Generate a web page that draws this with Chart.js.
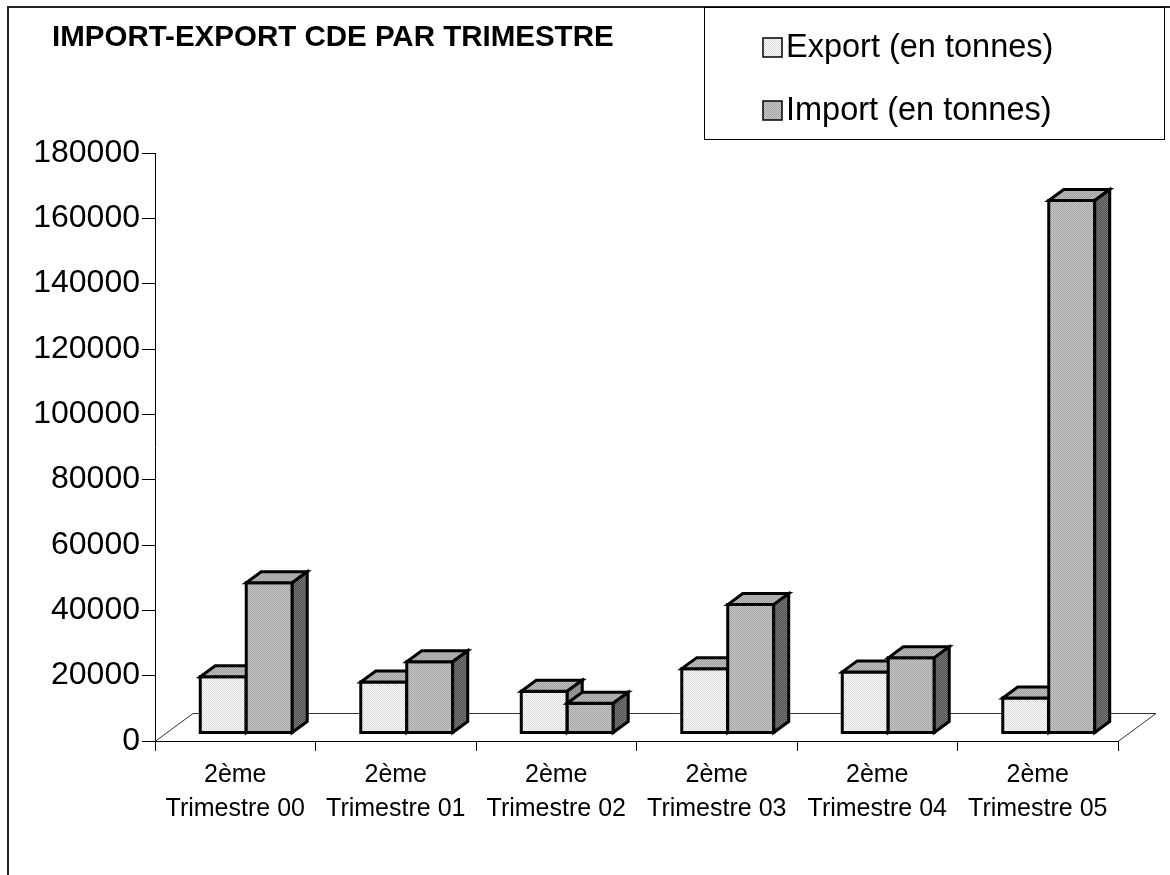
<!DOCTYPE html>
<html>
<head>
<meta charset="utf-8">
<script src="https://cdn.jsdelivr.net/npm/chart.js@4"></script>
<style>
html, body { margin: 0; padding: 0; background: #fff; }
#import_chart { display: block; }
</style>
</head>
<body>
<canvas id="import_chart" width="1170" height="875"></canvas>
<script>
var trimestres = [
    ['2ème', 'Trimestre 00'],
    ['2ème', 'Trimestre 01'],
    ['2ème', 'Trimestre 02'],
    ['2ème', 'Trimestre 03'],
    ['2ème', 'Trimestre 04'],
    ['2ème', 'Trimestre 05']
];
var exportTonnes = [17200, 15600, 12800, 19700, 18700, 10700];
var importTonnes = [46000, 21800, 9100, 39300, 23000, 163000];
var yMax = 180000;
var yStep = 20000;
var titre = 'IMPORT-EXPORT CDE PAR TRIMESTRE';
var legendes = ['Export (en tonnes)', 'Import (en tonnes)'];

var FONT = "'Liberation Sans', Arial, sans-serif";
var CANVAS = document.getElementById('import_chart');
var ctx = CANVAS.getContext('2d');

// petits motifs tramés façon Excel
function trame(c1, c2) {
    var p = document.createElement('canvas');
    p.width = 2; p.height = 2;
    var g = p.getContext('2d');
    g.fillStyle = c1; g.fillRect(0, 0, 2, 2);
    g.fillStyle = c2; g.fillRect(0, 0, 1, 1); g.fillRect(1, 1, 1, 1);
    return ctx.createPattern(p, 'repeat');
}

var faces = [
    { front: trame('#ffffff', '#d8d8d8'), top: trame('#a0a0a0', '#c0c0c0'), side: trame('#808080', '#a0a0a0') },
    { front: trame('#c8c8c8', '#a4a4a4'), top: trame('#a0a0a0', '#b8b8b8'), side: trame('#505050', '#7a7a7a') }
];

// décalages de la perspective
var FLOOR_DX = 38, FLOOR_DY = 28;
var BAR_SHIFT_X = 11, BAR_SHIFT_Y = 8;
var DEPTH_X = 15, DEPTH_Y = 11;

function poly(pts, fill, lw) {
    ctx.beginPath();
    ctx.moveTo(pts[0][0], pts[0][1]);
    for (var i = 1; i < pts.length; i++) ctx.lineTo(pts[i][0], pts[i][1]);
    ctx.closePath();
    if (fill) { ctx.fillStyle = fill; ctx.fill(); }
    ctx.lineWidth = lw;
    ctx.strokeStyle = '#000';
    ctx.stroke();
}

var decor = {
    id: 'decor',
    beforeDraw: function (chart) {
        var c = chart.ctx;
        c.save();
        // cadre du graphique
        c.strokeStyle = '#222';
        c.lineWidth = 2;
        c.beginPath();
        c.moveTo(8, 876); c.lineTo(8, 7); c.lineTo(1171, 7);
        c.stroke();
        // titre
        c.fillStyle = '#000';
        c.font = 'bold 29.5px ' + FONT;
        c.textBaseline = 'alphabetic';
        c.fillText(titre, 52, 46);
        // légende
        c.lineWidth = 1;
        c.strokeStyle = '#000';
        c.strokeRect(704.5, 7.5, 460, 132);
        c.font = '32.5px ' + FONT;
        c.textBaseline = 'middle';
        var ys = [47, 110];
        for (var i = 0; i < legendes.length; i++) {
            var x0 = 763;
            c.fillStyle = faces[i].front;
            c.fillRect(x0, ys[i] - 9, 19, 19);
            c.strokeStyle = '#000';
            c.lineWidth = 1.5;
            c.strokeRect(x0, ys[i] - 9, 19, 19);
            c.fillStyle = '#000';
            c.fillText(legendes[i], x0 + 23, ys[i] + 1);
        }
        c.restore();
    },
    beforeDatasetsDraw: function (chart) {
        var a = chart.chartArea, c = chart.ctx;
        c.save();
        c.strokeStyle = '#333';
        c.lineWidth = 1;
        c.beginPath();
        c.moveTo(a.left, a.bottom + 0.5);
        c.lineTo(a.left + FLOOR_DX, a.bottom - FLOOR_DY + 0.5);
        c.lineTo(a.right + FLOOR_DX, a.bottom - FLOOR_DY + 0.5);
        c.lineTo(a.right, a.bottom + 0.5);
        c.stroke();
        c.restore();
    },
    afterDatasetsDraw: function (chart) {
        ctx.save();
        ctx.lineJoin = 'miter';
        var n = chart.data.labels.length;
        for (var k = 0; k < n; k++) {
            for (var d = 0; d < chart.data.datasets.length; d++) {
                var bar = chart.getDatasetMeta(d).data[k];
                var l = bar.x - bar.width / 2 + BAR_SHIFT_X;
                var r = bar.x + bar.width / 2 + BAR_SHIFT_X;
                var t = bar.y - BAR_SHIFT_Y;
                var b = bar.base - BAR_SHIFT_Y;
                var f = faces[d];
                poly([[l, t], [r, t], [r, b], [l, b]], f.front, 3);
                poly([[l, t], [l + DEPTH_X, t - DEPTH_Y], [r + DEPTH_X, t - DEPTH_Y], [r, t]], f.top, 3);
                poly([[r, t], [r + DEPTH_X, t - DEPTH_Y], [r + DEPTH_X, b - DEPTH_Y], [r, b]], f.side, 3);
            }
        }
        ctx.restore();
    }
};

Chart.defaults.font.family = FONT;
Chart.defaults.color = '#000';

var import_chart = new Chart(ctx, {
    type: 'bar',
    data: {
        labels: trimestres,
        datasets: [{
                label: legendes[0],
                data: exportTonnes,
                backgroundColor: 'transparent',
                borderWidth: 0
            },
            {
                label: legendes[1],
                data: importTonnes,
                backgroundColor: 'transparent',
                borderWidth: 0
            }
        ]
    },
    options: {
        responsive: false,
        animation: false,
        devicePixelRatio: 1,
        categoryPercentage: 0.573,
        barPercentage: 1,
        layout: { padding: { top: 153, right: 52, left: 0, bottom: 0 } },
        plugins: {
            legend: { display: false },
            title: { display: false },
            tooltip: { enabled: false }
        },
        scales: {
            x: {
                grid: { offset: true, drawOnChartArea: false, tickLength: 10, color: '#000' },
                border: { color: '#000', width: 1 },
                ticks: { font: { size: 25, lineHeight: 1.36 }, padding: 7, maxRotation: 0, autoSkip: false },
                afterFit: function (s) { s.height = 134; }
            },
            y: {
                min: 0,
                max: yMax,
                grid: { drawOnChartArea: false, tickLength: 13, color: '#000' },
                border: { color: '#000', width: 1 },
                ticks: {
                    stepSize: yStep,
                    font: { size: 32 },
                    padding: 2,
                    callback: function (v) { return String(v); }
                },
                afterFit: function (s) { s.width = 155; }
            }
        }
    },
    plugins: [decor]
});
</script>
</body>
</html>
